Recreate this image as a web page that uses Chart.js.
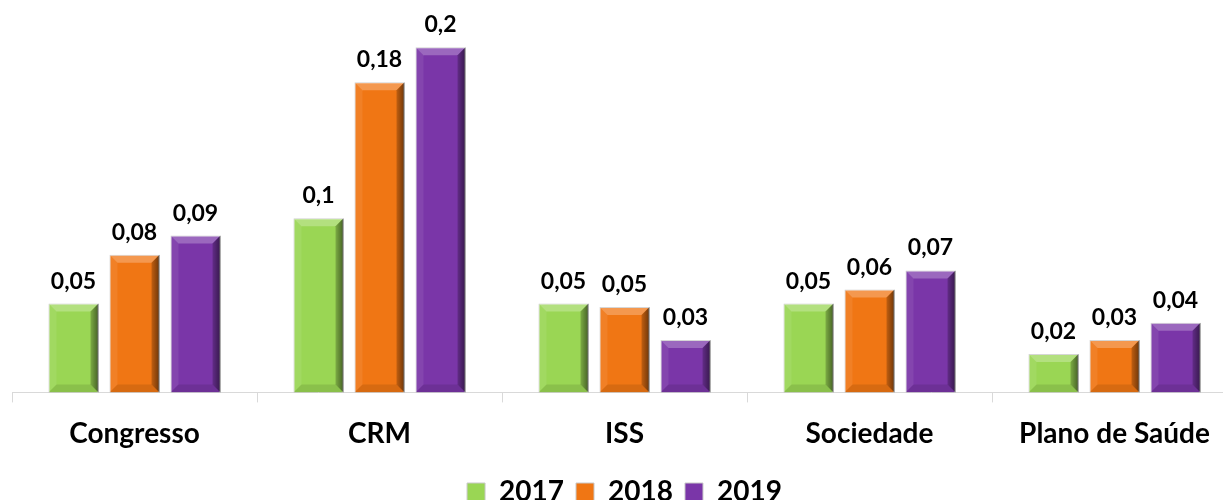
<!DOCTYPE html>
<html>
<head>
<meta charset="utf-8">
<script src="https://cdn.jsdelivr.net/npm/chart.js@4.4.1/dist/chart.umd.min.js"></script>
<style>
  html, body { margin: 0; padding: 0; background: #fff; overflow: hidden; }
  #wrap { width: 1250px; height: 516px; position: relative; }
</style>
</head>
<body>
<div id="wrap"><canvas id="myChart"></canvas></div>
<script>
// data
var categories = ['Congresso', 'CRM', 'ISS', 'Sociedade', 'Plano de Saúde'];
var years = ['2017', '2018', '2019'];
var values2017 = [0.051, 0.100, 0.051, 0.051, 0.022];
var values2018 = [0.079, 0.178, 0.049, 0.059, 0.030];
var values2019 = [0.090, 0.198, 0.030, 0.070, 0.040];
var colors = ['#9ad654', '#f07614', '#7a36a8'];

var FONT = 'Lato, "Open Sans", sans-serif';

// number like 0,05 / 0,1
function fmt(v) {
  return Number(v.toFixed(2)).toString().replace('.', ',');
}

// bevelled look on each bar
var bevelPlugin = {
  id: 'bevel',
  afterDatasetsDraw: function(chart) {
    var ctx = chart.ctx;
    chart.data.datasets.forEach(function(ds, i) {
      var meta = chart.getDatasetMeta(i);
      meta.data.forEach(function(bar) {
        var l = bar.x - bar.width / 2, r = bar.x + bar.width / 2;
        var t = bar.y, b = bar.base;
        var d = Math.min(8, (b - t) / 2);
        ctx.save();
        // top
        ctx.fillStyle = 'rgba(255,255,255,0.25)';
        ctx.beginPath();
        ctx.moveTo(l, t); ctx.lineTo(r, t); ctx.lineTo(r - d, t + d); ctx.lineTo(l + d, t + d);
        ctx.closePath(); ctx.fill();
        // left
        ctx.fillStyle = 'rgba(255,255,255,0.08)';
        ctx.beginPath();
        ctx.moveTo(l, t); ctx.lineTo(l + d, t + d); ctx.lineTo(l + d, b - d); ctx.lineTo(l, b);
        ctx.closePath(); ctx.fill();
        // right
        var g = ctx.createLinearGradient(r - d, 0, r, 0);
        g.addColorStop(0, 'rgba(0,0,0,0.2)');
        g.addColorStop(1, 'rgba(0,0,0,0.55)');
        ctx.fillStyle = g;
        ctx.beginPath();
        ctx.moveTo(r, t); ctx.lineTo(r, b); ctx.lineTo(r - d, b - d); ctx.lineTo(r - d, t + d);
        ctx.closePath(); ctx.fill();
        // bottom
        ctx.fillStyle = 'rgba(0,0,0,0.1)';
        ctx.beginPath();
        ctx.moveTo(l, b); ctx.lineTo(r, b); ctx.lineTo(r - d, b - d); ctx.lineTo(l + d, b - d);
        ctx.closePath(); ctx.fill();
        ctx.restore();
      });
    });
  }
};

// value labels above bars
var labelPlugin = {
  id: 'valueLabels',
  afterDatasetsDraw: function(chart) {
    var ctx = chart.ctx;
    ctx.save();
    ctx.font = 'bold 23px ' + FONT;
    ctx.fillStyle = '#000';
    ctx.textAlign = 'center';
    ctx.textBaseline = 'alphabetic';
    chart.data.datasets.forEach(function(ds, i) {
      chart.getDatasetMeta(i).data.forEach(function(bar, j) {
        ctx.fillText(fmt(ds.data[j]), bar.x, bar.y - 15);
      });
    });
    ctx.restore();
  }
};

var ctx = document.getElementById('myChart').getContext('2d');
var myChart = new Chart(ctx, {
  type: 'bar',
  data: {
    labels: categories,
    datasets: [values2017, values2018, values2019].map(function(vals, i) {
      return {
        label: years[i],
        data: vals,
        backgroundColor: colors[i],
        borderColor: '#c8c8c8',
        borderWidth: 1,
        barPercentage: 0.82,
        categoryPercentage: 0.747
      };
    })
  },
  options: {
    responsive: true,
    maintainAspectRatio: false,
    animation: false,
    layout: { padding: { top: 9, left: 12, right: 13, bottom: 0 } },
    plugins: {
      tooltip: { enabled: false },
      legend: {
        position: 'bottom',
        labels: {
          color: '#000',
          font: { family: FONT, size: 28, weight: 'bold' },
          boxWidth: 18,
          boxHeight: 18,
          padding: 12
        }
      }
    },
    scales: {
      x: {
        border: { display: true, color: '#d9d9d9', width: 1 },
        grid: { display: true, drawOnChartArea: false, drawTicks: true, tickLength: 10, color: '#d9d9d9' },
        ticks: { color: '#000', padding: 15, font: { family: FONT, size: 28, weight: 'bold' } }
      },
      y: {
        display: false,
        min: 0,
        max: 0.22
      }
    }
  },
  plugins: [bevelPlugin, labelPlugin]
});
</script>
</body>
</html>
